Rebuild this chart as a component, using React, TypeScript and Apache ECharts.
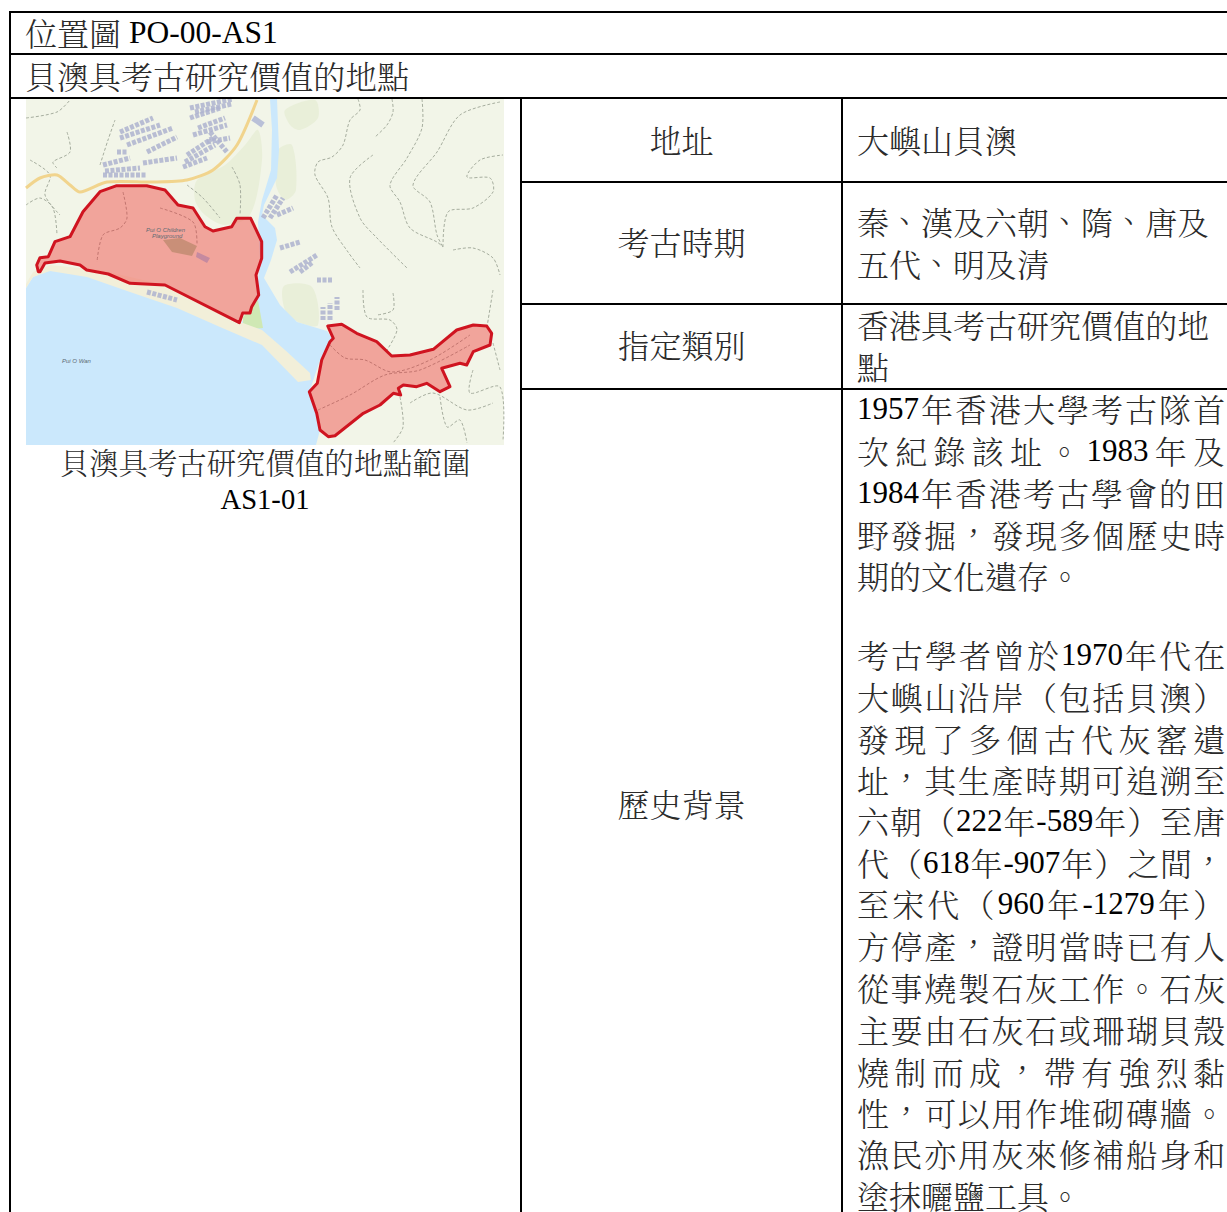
import React, { useEffect, useRef } from "react";
import * as echarts from "echarts";

type Pt = [number, number];

// ---- document text ----
const headerLines = ["位置圖 PO-00-AS1", "貝澳具考古研究價值的地點"];
const captionLines = ["貝澳具考古研究價值的地點範圍", "AS1-01"];
const labelLines = ["地址", "考古時期", "指定類別", "歷史背景"];
const addressLines = ["大嶼山貝澳"];
const periodLines = ["秦、漢及六朝、隋、唐及", "五代、明及清"];
const categoryLines = ["香港具考古研究價值的地", "點"];
const historyLines = [
  "1957年香港大學考古隊首",
  "次紀錄該址。1983年及",
  "1984年香港考古學會的田",
  "野發掘，發現多個歷史時",
  "期的文化遺存。",
  "考古學者曾於1970年代在",
  "大嶼山沿岸（包括貝澳）",
  "發現了多個古代灰窰遺",
  "址，其生產時期可追溯至",
  "六朝（222年-589年）至唐",
  "代（618年-907年）之間，",
  "至宋代（960年-1279年）",
  "方停產，證明當時已有人",
  "從事燒製石灰工作。石灰",
  "主要由石灰石或珊瑚貝殼",
  "燒制而成，帶有強烈黏",
  "性，可以用作堆砌磚牆。",
  "漁民亦用灰來修補船身和",
  "塗抹曬鹽工具。",
];
const historyEndsParagraph = ["期的文化遺存。", "塗抹曬鹽工具。"];
const historyY = [410, 452, 494, 536, 577, 656, 698, 740, 781, 822, 864, 905, 947, 989, 1031, 1073, 1114, 1155, 1197];

// ---- map geometry ----
const waterArea: Pt[] = [[270,99],[277,99],[279,150],[277,178],[264,205],[262,215],[275,228],[277,240],[271,260],[264,278],[280,305],[297,322],[327,331],[333,340],[320,360],[310,390],[320,430],[316,445],[26,445],[26,288],[33,277],[50,270],[87,272],[165,290],[240,325],[256,300],[260,260],[258,222],[262,200],[271,170],[272,130]];
const beachStrip: Pt[] = [[26,284],[33,272],[50,265],[100,270],[165,285],[240,322],[262,330],[285,350],[310,373],[311,380],[298,382],[262,345],[220,327],[177,308],[130,292],[87,277],[50,271],[33,277],[26,288]];
const meadow: Pt[] = [[243,317],[258,300],[263,328],[243,330]];
const forestPatches: Pt[][] = [
  [[197,180],[225,165],[245,145],[258,130],[262,160],[250,215],[225,225],[205,215],[195,200]],
  [[285,110],[315,100],[318,118],[300,130],[290,125]],
  [[278,150],[292,145],[296,190],[285,200],[276,185]],
  [[284,286],[312,287],[318,325],[298,322],[285,310]],
];
const westSite: Pt[] = [[38.3,271.7],[36.7,265],[40,257.7],[48.3,256.7],[55,241.7],[70,236.7],[83,211.7],[100,191.7],[116.7,185.7],[146.7,185.7],[165,190],[178,205],[193,208],[205,226.7],[213,231],[231.7,226.7],[236.7,218.3],[250.7,218.3],[261.7,241.7],[261.7,258.3],[256,275],[256.7,280],[258.7,295],[251.7,306.7],[250,313],[242.7,313],[239.3,322.7],[165,285],[130,283.3],[108.3,274],[86.7,270],[80,265],[60,261],[45,263],[40,271.7]];
const eastSite: Pt[] = [[327.7,326],[341.7,324.3],[356.7,333.3],[376.7,341.7],[391.7,356],[410,355],[433.3,349.3],[456.7,330],[473.3,325],[486.7,326],[491.7,333.3],[490,345],[473.3,351.7],[466.7,365],[460,363.3],[441.7,368.3],[450,386.7],[440,391.7],[426.7,383.3],[416.7,386.7],[403.3,385],[398.3,388.3],[400.7,395],[393.3,393.3],[380,405],[363.3,413.3],[335,435.7],[328.3,436.7],[320,430],[316.7,413.3],[309.3,391.7],[317.3,383.3],[321.7,360],[330,341.7],[333.3,338.3]];
const roadLine: Pt[] = [[26,188],[40,178],[57,175],[70,185],[80,192],[107,182],[153,182],[187,180],[213,170],[237,145],[257,100]];
const trails: Pt[][] = [
  [[392,99],[393,112],[387,125],[375,137]],
  [[358,99],[360,110],[350,120],[343,145],[332,157],[318,162],[315,175],[328,198],[332,227],[348,252],[360,268]],
  [[422,99],[422,128],[407,158],[390,185],[400,202],[410,228],[437,242],[443,247]],
  [[373,155],[350,178],[360,218],[377,238],[407,268]],
  [[500,102],[460,115],[437,152],[413,185],[430,202],[437,235],[443,247]],
  [[443,247],[448,212],[473,208],[493,192],[490,178],[467,177],[480,160],[503,155]],
  [[453,250],[473,248],[493,258],[500,275]],
  [[363,290],[367,317],[390,320],[397,330],[387,350]],
  [[393,293],[393,310],[377,315]],
  [[493,290],[487,327]],
  [[400,397],[403,427],[393,443]],
  [[410,403],[433,393],[467,410],[493,403]],
  [[440,397],[447,427],[460,420],[467,443]],
  [[473,370],[470,393],[500,387],[503,440]],
  [[493,343],[500,370]],
  [[26,118],[57,112],[70,100]],
  [[67,132],[70,152],[53,162],[57,168]],
  [[187,185],[203,198],[220,218]],
  [[232,167],[240,185],[240,215]],
  [[26,205],[40,198],[53,208],[57,235]],
  [[30,160],[50,175],[45,195],[60,215]],
  [[100,165],[108,140],[115,120]],
];
const siteTrails: Pt[][] = [
  [[123,192],[127,218],[120,228],[103,235],[97,262]],
  [[160,208],[193,222],[197,245]],
  [[330,345],[345,358],[365,360],[392,372],[430,360],[470,335]],
  [[318,410],[350,395],[385,375],[420,370],[470,345]],
];
const buildingRows: Pt[][] = [
  [[120,132],[153,118]],[[120,138],[160,125]],[[127,145],[173,128]],[[147,152],[177,137]],
  [[103,175],[147,175]],[[103,165],[130,158]],[[105,171],[140,168]],[[143,163],[177,158]],[[117,152],[127,152]],
  [[183,167],[207,158]],[[187,155],[213,138]],[[193,135],[227,125]],[[190,118],[220,108]],
  [[185,162],[215,145]],[[198,128],[225,118]],[[195,112],[232,104]],
  [[207,142],[230,138]],[[210,132],[227,152]],[[190,108],[233,99]],
  [[263,218],[277,195]],[[270,218],[283,198]],[[277,215],[293,208]],[[280,248],[300,242]],
  [[290,272],[317,255]],[[300,272],[313,262]],[[317,280],[333,280]],
  [[323,320],[323,307]],[[330,320],[330,303]],[[337,310],[337,297]],
  [[147,292],[177,300]],
];
const darkBlock: Pt[] = [[253,118],[263,125]];
const lawnPatch: Pt[] = [[163,240],[180,238],[197,246],[192,256],[172,252]];
const courtPatch: Pt[] = [[197,252],[210,258],[207,263],[196,257]];

const MAP_LABELS: { text: string; x: number; y: number }[] = [
  { text: "Pui O Wan", x: 62, y: 358 },
  { text: "Pui O Children", x: 146, y: 227 },
  { text: "Playground", x: 152, y: 233 },
];

// ---- style ----
const CJK = '"Noto Serif CJK TC","Noto Sans CJK TC"';
const LATIN = '"Liberation Serif"';
const CJK_COLOR = "#2b2b2b";
const CENTERED_MARKS = ["，", "、"];
const runPattern = /[0-9A-Za-z\- ]+|./gu;
const isLatin = (s: string) => /^[0-9A-Za-z\- ]+$/.test(s);

type TextLine = { text: string; y: number; left?: number; center?: number; right?: number; size: number; latin: number };

export default function App() {
  const ref = useRef<HTMLDivElement>(null);
  useEffect(() => {
    document.body.style.margin = "0";
    document.body.style.overflow = "hidden";
    document.documentElement.lang = "zh-TW";
    const chart = echarts.init(ref.current!, undefined, { renderer: "svg", width: 1227, height: 1212 });

    const ctx = document.createElement("canvas").getContext("2d")!;
    const measure = (tok: string, l: TextLine) => {
      ctx.font = isLatin(tok) ? `${l.latin}px ${LATIN}` : `${l.size}px ${CJK}`;
      return ctx.measureText(tok).width;
    };
    const naturalWidth = (l: TextLine) => (l.text.match(runPattern) || []).reduce((a, t) => a + measure(t, l), 0);

    const lines: TextLine[] = [];
    const add = (text: string, y: number, o: Partial<TextLine> = {}) =>
      lines.push({ text, y: y - 2, size: 32, latin: 31, ...o });

    add(headerLines[0], 34, { left: 25, latin: 31.5 });
    add(headerLines[1], 77, { left: 25 });
    add(captionLines[0], 463, { center: 265.5, size: 29.4, latin: 28.6 });
    add(captionLines[1], 501, { center: 265, size: 29.4, latin: 28.6 });
    [141, 243, 346, 805].forEach((y, i) => add(labelLines[i], y, { center: 681.5 }));
    add(addressLines[0], 141, { left: 857 });
    add(periodLines[0], 223, { left: 857 });
    add(periodLines[1], 265, { left: 857 });
    add(categoryLines[0], 326, { left: 857 });
    add(categoryLines[1], 368, { left: 857 });
    historyLines.forEach((t, i) =>
      add(t, historyY[i], historyEndsParagraph.includes(t) ? { left: 857 } : { left: 857, right: 1225 })
    );

    const elements: any[] = [];
    const poly = (points: Pt[], fill: string, extra: any = {}) =>
      elements.push({ type: "polygon", silent: true, shape: { points, smooth: extra.smooth ?? 0 }, style: { fill, stroke: extra.stroke, lineWidth: extra.lineWidth, lineJoin: extra.lineJoin } });
    const pline = (points: Pt[], stroke: string, lineWidth: number, extra: any = {}) =>
      elements.push({ type: "polyline", silent: true, shape: { points, smooth: extra.smooth ?? 0 }, style: { stroke, lineWidth, fill: "none", lineDash: extra.lineDash, opacity: extra.opacity } });

    // map
    elements.push({ type: "rect", silent: true, shape: { x: 26, y: 99, width: 478, height: 346 }, style: { fill: "#f2f5e8" } });
    forestPatches.forEach((p) => poly(p, "#e9efd9", { smooth: 0.3 }));
    poly(waterArea, "#cbe8fc");
    poly(meadow, "#cfe8b4");
    poly(beachStrip, "#f2efd9");
    trails.forEach((t) => pline(t, "#a6ad9e", 1, { lineDash: [3, 2], smooth: 0.3 }));
    pline(roadLine, "#f1d48d", 3, { smooth: 0.25 });
    buildingRows.forEach((b) => pline(b, "#aeb3cf", 5, { lineDash: [4, 1.5], opacity: 0.85 }));
    pline(darkBlock, "#b9c0d8", 6);
    poly(westSite, "rgba(240,90,85,0.52)", { stroke: "#cf1420", lineWidth: 3, lineJoin: "round" });
    poly(eastSite, "rgba(240,90,85,0.52)", { stroke: "#cf1420", lineWidth: 3, lineJoin: "round" });
    siteTrails.forEach((t) => pline(t, "#c2756f", 1, { lineDash: [3, 2], smooth: 0.3 }));
    poly(lawnPatch, "#c98f78");
    poly(courtPatch, "#c58aa0");
    MAP_LABELS.forEach((m) =>
      elements.push({ type: "text", silent: true, style: { text: m.text, x: m.x, y: m.y, font: 'italic 6px "Liberation Sans"', fill: "#5d6a73" } })
    );

    // table rules
    const rule = (x1: number, y1: number, x2: number, y2: number) =>
      elements.push({ type: "line", silent: true, shape: { x1, y1, x2, y2 }, style: { stroke: "#000", lineWidth: 2 } });
    rule(9, 12, 1227, 12);
    rule(10, 12, 10, 1212);
    rule(10, 54, 1227, 54);
    rule(10, 98, 1227, 98);
    rule(521, 98, 521, 1212);
    rule(842, 98, 842, 1212);
    rule(521, 182, 1227, 182);
    rule(521, 304, 1227, 304);
    rule(521, 389, 1227, 389);

    // text
    const placed = lines.map((l) => {
      const w = naturalWidth(l);
      const x = l.center !== undefined ? l.center - w / 2 : (l.left as number);
      elements.push({
        type: "text",
        silent: true,
        style: { text: l.text, x, y: l.y, font: `${l.size}px ${LATIN},${CJK}`, fill: "#000", textAlign: "left", textVerticalAlign: "middle", verticalAlign: "middle" },
      });
      return { l, w, x };
    });

    chart.setOption({ animation: false, graphic: { elements } });

    // set runs and justification inside each line's single <text>
    const nodes = Array.from(ref.current!.querySelectorAll("svg text")) as SVGTextElement[];
    placed.forEach(({ l, w }) => {
      const node = nodes.find((n) => n.textContent === l.text);
      if (!node) return;
      node.setAttribute("lang", "zh-TW");
      const tokens = l.text.match(runPattern) || [];
      const gap = l.right !== undefined && tokens.length > 1 ? (l.right - l.left! - w) / (tokens.length - 1) : 0;
      node.textContent = "";
      let backY = 0;
      tokens.forEach((t, i) => {
        const span = document.createElementNS("http://www.w3.org/2000/svg", "tspan");
        span.textContent = t;
        const dx = i > 0 ? gap : 0;
        let dy = backY;
        backY = 0;
        if (CENTERED_MARKS.includes(t)) {
          dy -= 2;
          backY = 2;
        }
        if (dx) span.setAttribute("dx", dx.toFixed(2));
        if (dy) span.setAttribute("dy", dy.toFixed(2));
        if (isLatin(t)) {
          span.setAttribute("style", `font-family:${LATIN};font-size:${l.latin}px`);
          span.setAttribute("fill", "#000");
        } else {
          span.setAttribute("style", `font-family:${CJK};font-size:${l.size}px;font-weight:300`);
          span.setAttribute("fill", CJK_COLOR);
        }
        node.appendChild(span);
      });
    });

    return () => chart.dispose();
  }, []);
  return <div ref={ref} style={{ width: 1227, height: 1212 }} />;
}
